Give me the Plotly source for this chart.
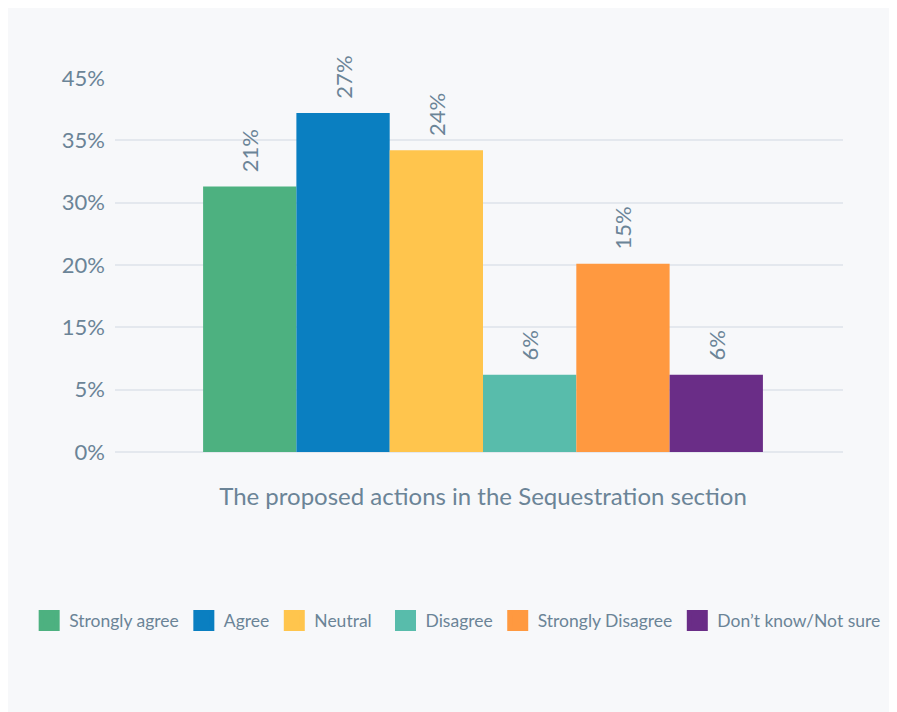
import plotly.graph_objects as go

TEXT = "#6b8497"
GRID = "#e4e8ee"
BG = "#f7f8fa"
FONT = "Lato"

category = ["The proposed actions in the Sequestration section"]
responses = ["Strongly agree", "Agree", "Neutral", "Disagree",
             "Strongly Disagree", "Don’t know/Not sure"]
shares = [21.3, 27.2, 24.2, 6.2, 15.1, 6.2]
colours = ["#4db180", "#0a7fc1", "#ffc54d", "#58bcab", "#ff9940", "#6a2d87"]

tick_vals = [0, 5, 10, 15, 20, 25, 30]
tick_text = ["0%", "5%", "15%", "20%", "30%", "35%", "45%"]

fig = go.Figure()
for i, (name, val, col) in enumerate(zip(responses, shares, colours)):
    fig.add_trace(go.Bar(
        x=category, y=[val], name=name, marker_color=col,
        marker_line_width=0, showlegend=False,
        texttemplate="\u00a0\u00a0%{y:.0f}%", textposition="outside",
        textangle=-90, textfont=dict(size=22, color=TEXT, family=FONT),
        cliponaxis=False,
    ))
    # legend proxy with bigger square swatches; split over two legends
    # so the row doesn't wrap
    fig.add_trace(go.Scatter(
        x=[None], y=[None], mode="markers", name=name,
        legend="legend" if i < 3 else "legend2",
        marker=dict(symbol="square", size=16, color=col,
                    line=dict(color=col, width=5)),
    ))

legend_style = dict(orientation="h", xanchor="left", y=-0.451,
                    yanchor="middle", font=dict(size=17.5, color=TEXT),
                    bgcolor="rgba(0,0,0,0)", itemwidth=30)

fig.update_layout(
    width=897, height=712,
    paper_bgcolor=BG, plot_bgcolor=BG,
    font=dict(family=FONT, color=TEXT, size=18),
    margin=dict(l=107, r=62, t=69.5, b=268, autoexpand=False),
    barmode="group", bargap=0.231, bargroupgap=0,
    legend=dict(x=-0.1179, **legend_style),
    legend2=dict(x=0.3716, **legend_style),
    xaxis=dict(showgrid=False, showline=False, ticks="",
               range=[-0.5055, 0.4945],
               tickfont=dict(size=24, color=TEXT, family=FONT),
               ticklabelstandoff=28),
    yaxis=dict(range=[0, 30], tickvals=tick_vals, ticktext=tick_text,
               gridcolor=GRID, gridwidth=1.5, zeroline=True,
               zerolinecolor=GRID, zerolinewidth=1.5, showline=False,
               tickfont=dict(size=22, color=TEXT, family=FONT),
               ticklabelstandoff=9),
)

fig.write_html("out.html")
